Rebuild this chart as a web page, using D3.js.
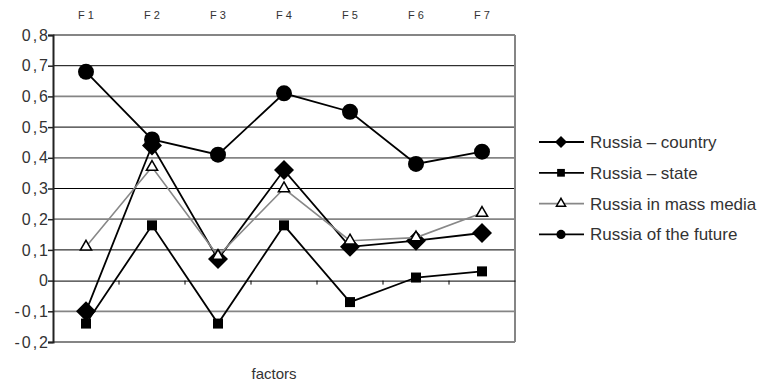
<!DOCTYPE html>
<html>
<head>
<meta charset="utf-8">
<script src="https://cdn.jsdelivr.net/npm/d3@7"></script>
<style>
    body { margin: 0; background: #fff; }
    svg { font-family: "Liberation Sans", Arial, sans-serif; }
</style>
</head>
<body>
<div id="chart"></div>
<script>
// Data
const factors = ["F 1", "F 2", "F 3", "F 4", "F 5", "F 6", "F 7"];
const yTicks = [0.8, 0.7, 0.6, 0.5, 0.4, 0.3, 0.2, 0.1, 0, -0.1, -0.2];

const country = [-0.10, 0.44, 0.07, 0.36, 0.11, 0.13, 0.155];
const state = [-0.14, 0.18, -0.14, 0.18, -0.07, 0.01, 0.03];
const massMedia = [0.11, 0.37, 0.08, 0.30, 0.13, 0.14, 0.22];
const future = [0.68, 0.46, 0.41, 0.61, 0.55, 0.38, 0.42];

const seriesNames = ["Russia – country", "Russia – state", "Russia in mass media", "Russia of the future"];

const width = 762;
const height = 385;
const margin = { top: 35, right: 247, bottom: 43, left: 53 };

const series = [
    { name: seriesNames[0], values: country, line: "#000", sym: d3.symbolSquare, size: 200, rot: 45, fill: "#000", lsize: 72 },
    { name: seriesNames[1], values: state, line: "#000", sym: d3.symbolSquare, size: 100, rot: 0, fill: "#000", lsize: 60 },
    { name: seriesNames[2], values: massMedia, line: "#888", sym: d3.symbolTriangle, size: 55, rot: 0, fill: "#fff", lsize: 36 },
    { name: seriesNames[3], values: future, line: "#000", sym: d3.symbolCircle, size: 200, rot: 0, fill: "#000", lsize: 66 }
];

const svg = d3.select("#chart")
    .append("svg")
    .attr("width", width)
    .attr("height", height);

const xScale = d3.scaleBand()
    .domain(factors)
    .range([margin.left, width - margin.right]);

const yScale = d3.scaleLinear()
    .domain([-0.2, 0.8])
    .range([height - margin.bottom, margin.top]);

const fmt = v => d3.format(".1f")(v).replace(".", ",").replace(/^0,0$/, "0").replace("−", "-");

// Gridlines (alternate black / gray like the scan)
svg.append("g")
    .selectAll("line")
    .data(yTicks.filter(v => v !== 0))
    .enter()
    .append("line")
    .attr("x1", margin.left)
    .attr("x2", width - margin.right)
    .attr("y1", d => yScale(d))
    .attr("y2", d => yScale(d))
    .attr("stroke", d => (Math.abs(Math.round(d * 10)) % 2 === 1 && d > 0) ? "#000" : "#858585")
    .attr("stroke-width", d => (Math.abs(Math.round(d * 10)) % 2 === 1 && d > 0) ? 1 : 1.8);

// Right border
svg.append("line")
    .attr("x1", width - margin.right)
    .attr("x2", width - margin.right)
    .attr("y1", margin.top)
    .attr("y2", height - margin.bottom)
    .attr("stroke", "#858585")
    .attr("stroke-width", 2);

// Y axis
const yAxis = svg.append("g")
    .attr("transform", `translate(${margin.left},0)`)
    .call(d3.axisLeft(yScale).tickValues(yTicks).tickSize(5).tickPadding(3).tickFormat(fmt));
yAxis.select(".domain").attr("stroke", "#222").attr("stroke-width", 2);
yAxis.selectAll(".tick line").attr("stroke", "#222").attr("stroke-width", 1.5);
yAxis.selectAll(".tick text")
    .attr("fill", "#333")
    .style("font-size", "16px")
    .style("letter-spacing", "2px")
    .attr("dx", "5");

// X axis on the zero line
const xAxis = svg.append("g")
    .attr("transform", `translate(0,${yScale(0)})`)
    .call(d3.axisBottom(xScale).tickSize(0).tickFormat(""));
xAxis.select(".domain").attr("stroke", "#000").attr("stroke-width", 1);
svg.append("g")
    .selectAll("line")
    .data(factors.slice(1))
    .enter()
    .append("line")
    .attr("x1", d => xScale(d))
    .attr("x2", d => xScale(d))
    .attr("y1", yScale(0))
    .attr("y2", yScale(0) + 4)
    .attr("stroke", "#000");

// Factor labels along the top
svg.append("g")
    .selectAll("text")
    .data(factors)
    .enter()
    .append("text")
    .attr("x", d => xScale(d) + xScale.bandwidth() / 2)
    .attr("y", 19)
    .attr("text-anchor", "middle")
    .attr("fill", "#333")
    .style("font-size", "11px")
    .text(d => d);

// Axis title
svg.append("text")
    .attr("x", 274)
    .attr("y", 379)
    .attr("text-anchor", "middle")
    .attr("fill", "#333")
    .style("font-size", "15px")
    .text("factors");

const line = d3.line()
    .x((d, i) => xScale(factors[i]) + xScale.bandwidth() / 2)
    .y(d => yScale(d));

// Series: line then markers, in order
series.forEach(s => {
    const g = svg.append("g");
    g.append("path")
        .datum(s.values)
        .attr("fill", "none")
        .attr("stroke", s.line)
        .attr("stroke-width", s.line === "#000" ? 1.8 : 1.6)
        .attr("d", line);

    g.selectAll("path.marker")
        .data(s.values)
        .enter()
        .append("path")
        .attr("class", "marker")
        .attr("transform", (d, i) =>
            `translate(${xScale(factors[i]) + xScale.bandwidth() / 2},${yScale(d)}) rotate(${s.rot})`)
        .attr("d", d3.symbol().type(s.sym).size(s.size))
        .attr("fill", s.fill)
        .attr("stroke", "#000")
        .attr("stroke-width", s.fill === "#fff" ? 1.5 : 0);
});

// Legend
const legend = svg.append("g")
    .selectAll("g")
    .data(series)
    .enter()
    .append("g")
    .attr("transform", (d, i) => `translate(539,${142 + i * 30.8})`);

legend.append("line")
    .attr("x1", 0)
    .attr("x2", 45)
    .attr("stroke", d => d.line)
    .attr("stroke-width", 1.8);

legend.append("path")
    .attr("transform", d => `translate(22,0) rotate(${d.rot})`)
    .attr("d", d => d3.symbol().type(d.sym).size(d.lsize)())
    .attr("fill", d => d.fill)
    .attr("stroke", "#000")
    .attr("stroke-width", d => d.fill === "#fff" ? 1.5 : 0);

legend.append("text")
    .attr("x", 51)
    .attr("y", 6)
    .attr("fill", "#333")
    .style("font-size", "17px")
    .text(d => d.name);
</script>
</body>
</html>
